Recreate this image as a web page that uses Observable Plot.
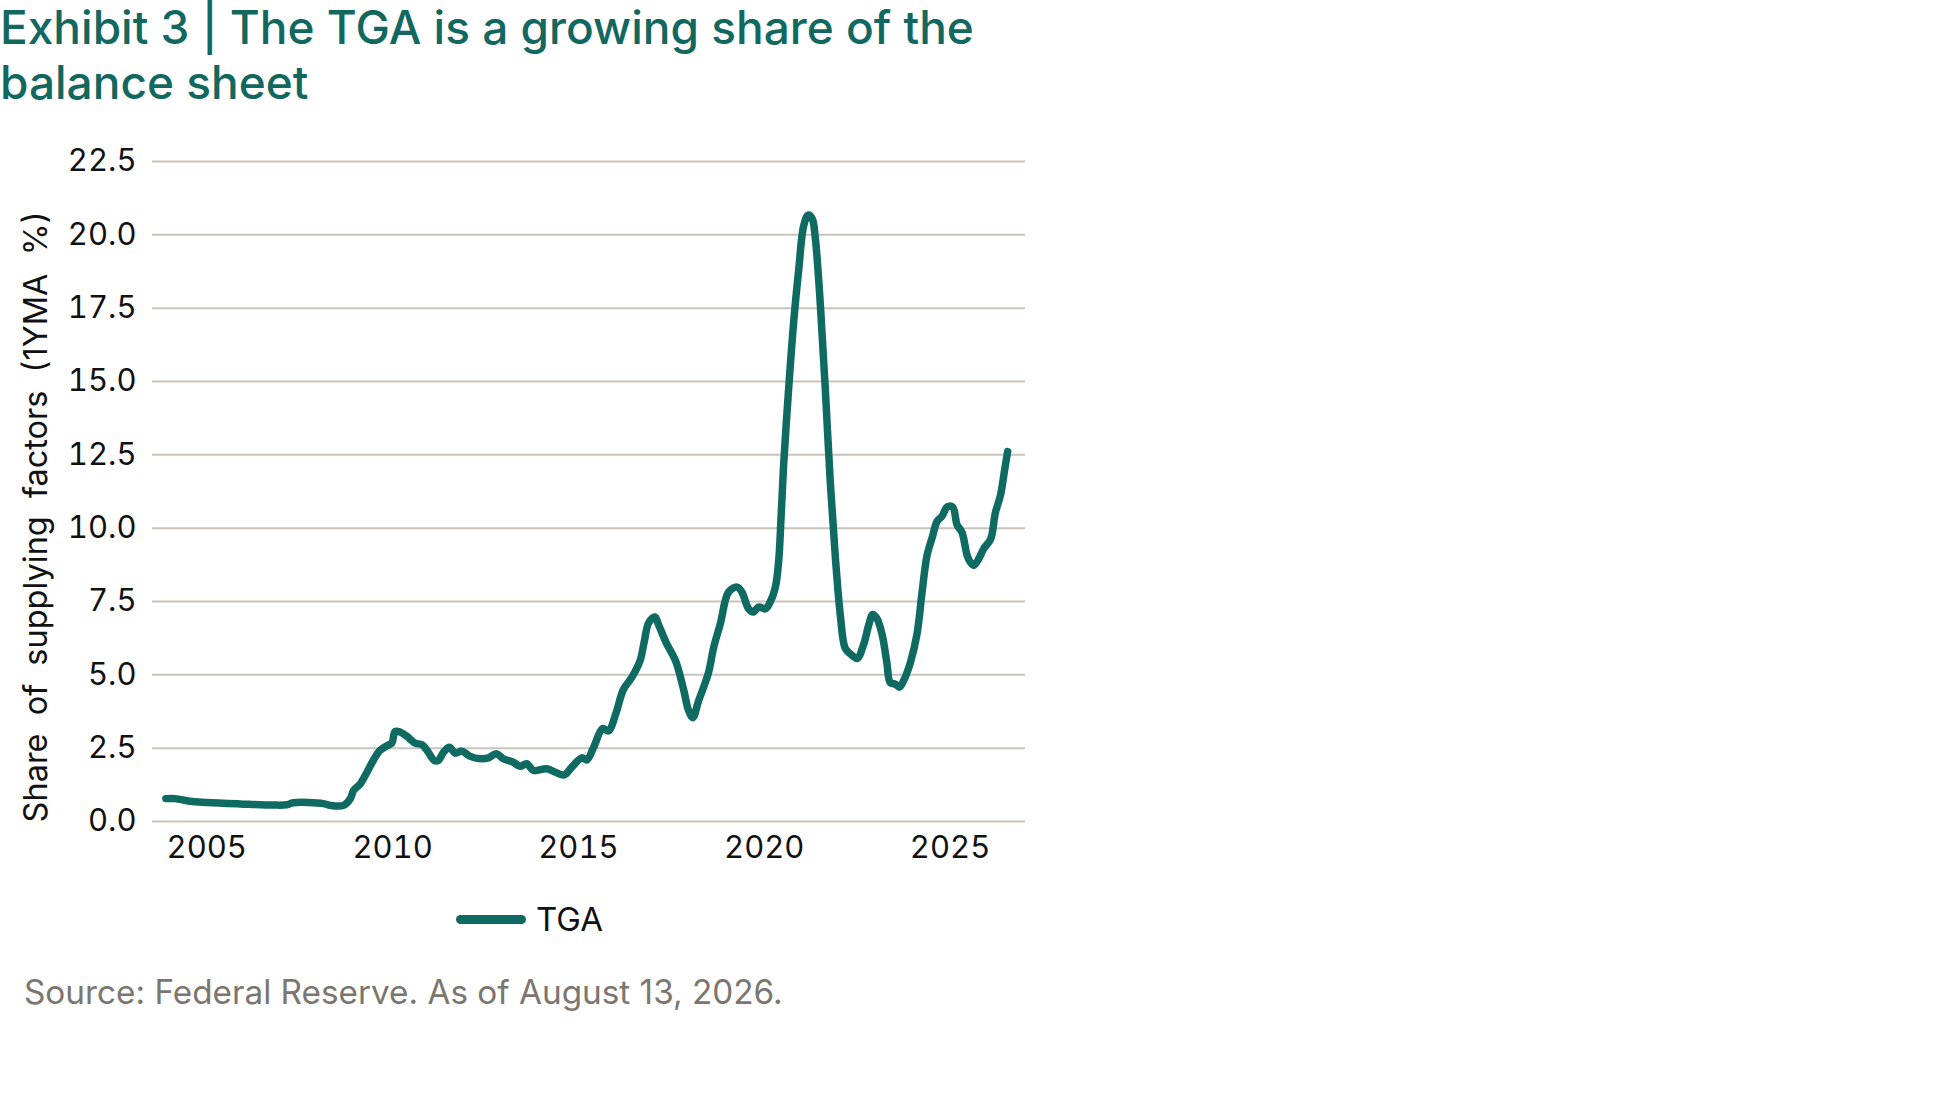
<!DOCTYPE html>
<html>
<head>
<meta charset="utf-8">
<script src="https://cdn.jsdelivr.net/npm/d3@7"></script>
<script src="https://cdn.jsdelivr.net/npm/@observablehq/plot@0.6"></script>
<style>
  html, body { margin: 0; padding: 0; background: #fff; }
  body { width: 1950px; height: 1100px; position: relative; font-family: Inter, "Noto Sans", sans-serif; overflow: hidden; }
  #title { position: absolute; left: 0; top: 0; color: #12685f; font-size: 46px; font-weight: 500; line-height: 55px; margin-top: 0; }
  #chart { position: absolute; left: 0; top: 110px; }
  #ylabel { position: absolute; left: 35px; top: 517px; transform: translate(-50%, -50%) rotate(-90deg); white-space: nowrap; font-size: 32.5px; color: #111; word-spacing: 9px; }
  #legend { position: absolute; left: 456px; top: 899px; display: flex; align-items: center; font-size: 33px; color: #111; }
  #legend .sw { width: 70px; height: 9px; border-radius: 5px; background: #0f6a62; margin-right: 10px; }
  #source { position: absolute; left: 24px; top: 972px; font-size: 33.3px; color: #7b766f; }
</style>
</head>
<body>
<div id="title">Exhibit 3 | The TGA is a growing share of the<br>balance sheet</div>
<div id="ylabel">Share of supplying factors (1YMA %)</div>
<div id="chart"></div>
<div id="legend"><div class="sw"></div><span>TGA</span></div>
<div id="source">Source: Federal Reserve. As of August 13, 2026.</div>
<script>
const seriesName = "TGA";
const years = [2003.90,2004.15,2004.55,2005.0,2005.9,2006.8,2007.15,2007.33,2008.14,2008.32,2008.68,2008.86,2008.95,2009.13,2009.31,2009.48,2009.66,2009.89,2009.98,2010.07,2010.20,2010.38,2010.61,2010.79,2010.94,2011.12,2011.23,2011.37,2011.53,2011.68,2011.86,2012.09,2012.36,2012.58,2012.79,2012.98,2013.25,2013.43,2013.61,2013.79,2014.15,2014.38,2014.62,2014.82,2015.09,2015.23,2015.41,2015.65,2015.81,2016.01,2016.21,2016.44,2016.66,2016.77,2016.89,2017.06,2017.16,2017.36,2017.61,2017.83,2017.96,2018.08,2018.23,2018.50,2018.64,2018.82,2019.04,2019.27,2019.40,2019.58,2019.71,2019.85,2020.03,2020.16,2020.30,2020.39,2020.45,2020.52,2020.66,2020.79,2020.93,2021.06,2021.18,2021.29,2021.37,2021.51,2021.64,2021.78,2021.91,2022.05,2022.18,2022.32,2022.50,2022.67,2022.81,2022.92,2023.03,2023.17,2023.30,2023.39,2023.53,2023.64,2023.75,2023.93,2024.11,2024.25,2024.38,2024.52,2024.65,2024.79,2024.92,2025.07,2025.19,2025.32,2025.46,2025.55,2025.64,2025.77,2025.91,2026.09,2026.22,2026.36,2026.47,2026.55];
const tgaShare = [0.78,0.78,0.69,0.65,0.60,0.56,0.57,0.64,0.61,0.55,0.55,0.77,1.06,1.28,1.68,2.08,2.42,2.61,2.67,3.07,3.05,2.91,2.67,2.62,2.40,2.08,2.08,2.36,2.53,2.33,2.40,2.22,2.14,2.17,2.31,2.14,2.02,1.88,1.97,1.74,1.80,1.68,1.59,1.85,2.17,2.10,2.53,3.17,3.09,3.69,4.50,4.92,5.49,6.12,6.77,6.97,6.70,6.10,5.49,4.50,3.80,3.54,4.10,5.07,5.94,6.75,7.82,7.99,7.82,7.25,7.14,7.31,7.25,7.48,7.99,8.90,10.3,12.12,14.81,17.0,18.84,20.30,20.67,20.55,19.94,17.62,14.81,11.51,9.07,7.0,5.90,5.71,5.56,6.02,6.69,7.06,6.93,6.39,5.41,4.74,4.68,4.58,4.80,5.41,6.39,7.85,9.07,9.68,10.23,10.42,10.72,10.72,10.11,9.86,9.07,8.83,8.73,8.95,9.31,9.62,10.53,11.14,12.0,12.61];
const yTicks = [0, 2.5, 5, 7.5, 10, 12.5, 15, 17.5, 20, 22.5];
const xTicks = [2005, 2010, 2015, 2020, 2025];

const data = years.map((y, i) => ({year: y, value: tgaShare[i], series: seriesName}));

const chart = Plot.plot({
  width: 1100,
  height: 760,
  marginLeft: 152,
  marginRight: 75,
  marginTop: 51,
  marginBottom: 49,
  style: {fontFamily: "Inter, 'Noto Sans', sans-serif", fontSize: "31px", color: "#111", background: "transparent"},
  x: {domain: [2003.54, 2027.03], ticks: xTicks, tickFormat: d => String(d), tickSize: 0, tickPadding: 14, label: null},
  y: {domain: [0, 22.5], ticks: yTicks, tickFormat: d => d.toFixed(1), tickSize: 0, tickPadding: 16, label: null},
  marks: [
    Plot.ruleY(yTicks, {stroke: "#c9c4bc", strokeWidth: 2}),
    Plot.axisX({ticks: xTicks, tickFormat: d => String(d), tickSize: 0, tickPadding: 14, fontSize: 31, label: null}),
    Plot.axisY({ticks: yTicks, tickFormat: d => d.toFixed(1), tickSize: 0, tickPadding: 16, fontSize: 31, label: null}),
    Plot.line(data, {x: "year", y: "value", stroke: "#0f6a62", strokeWidth: 7.5, curve: "catmull-rom", strokeLinecap: "round", strokeLinejoin: "round"})
  ]
});
document.getElementById("chart").appendChild(chart);
</script>
</body>
</html>
